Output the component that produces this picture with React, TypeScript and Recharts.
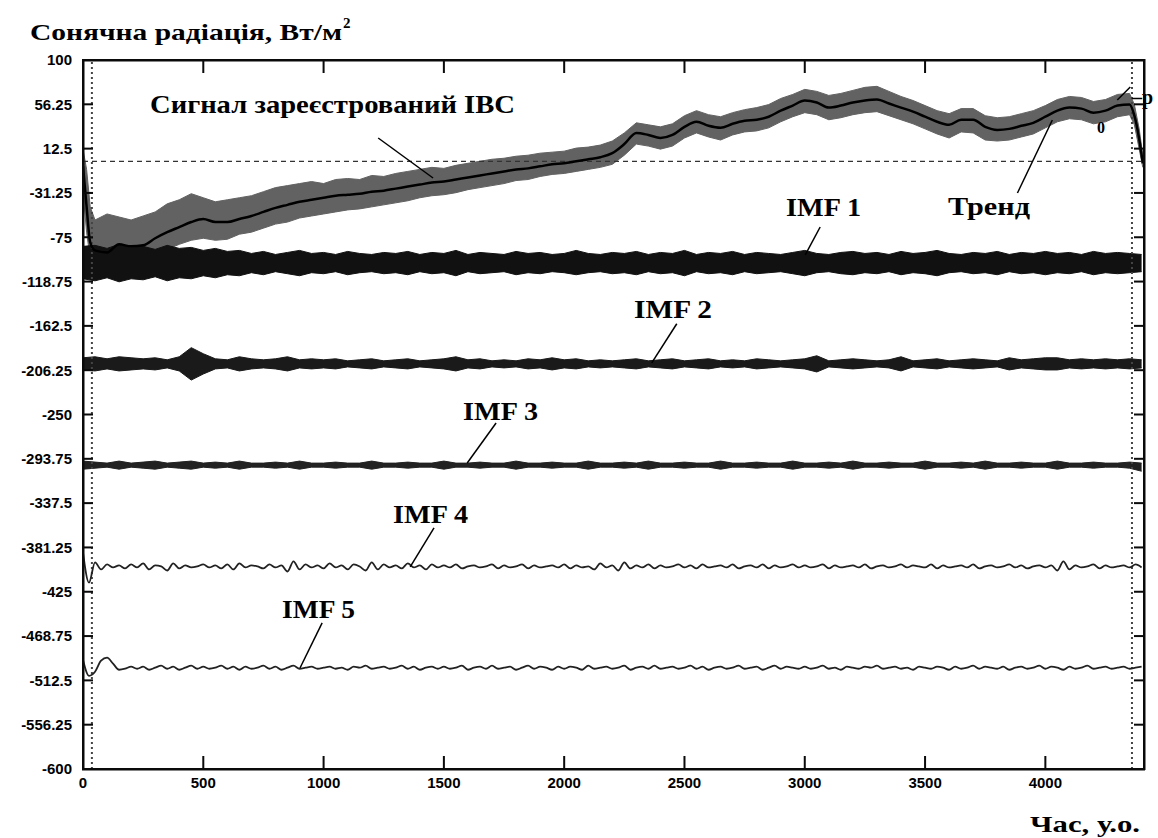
import React from 'react';
import { ComposedChart, Line, Area, XAxis, YAxis, ReferenceLine } from 'recharts';

// axis ticks
const X_TICKS = [0, 500, 1000, 1500, 2000, 2500, 3000, 3500, 4000];
const Y_TICKS = [100, 56.25, 12.5, -31.25, -75, -118.75, -162.5, -206.25, -250, -293.75, -337.5, -381.25, -425, -468.75, -512.5, -556.25, -600];
const X_MAX = 4410;
const Y_MIN = -600;
const Y_MAX = 100;

// recorded signal (gray band) + trend
const SIG_T = [
  0, 15, 30, 50, 100, 150, 200, 250, 300, 350, 400, 450,
  500, 550, 600, 650, 700, 750, 800, 850, 900, 950,
  1000, 1050, 1100, 1150, 1200, 1250, 1300, 1350, 1400, 1450,
  1500, 1550, 1600, 1650, 1700, 1750, 1800, 1850, 1900, 1950,
  2000, 2050, 2100, 2150, 2200, 2250, 2300, 2350, 2400, 2450,
  2500, 2550, 2600, 2650, 2700, 2750, 2800, 2850, 2900, 2950,
  3000, 3050, 3100, 3150, 3200, 3250, 3300, 3350, 3400, 3450,
  3500, 3550, 3600, 3650, 3700, 3750, 3800, 3850, 3900, 3950,
  4000, 4050, 4100, 4150, 4200, 4250, 4300, 4350, 4370, 4390, 4405,
];
const SIG_TREND = [
  -5, -45, -80, -88, -90, -82, -84, -83, -76, -70, -65, -60,
  -57, -60, -60, -57, -54, -50, -46, -43, -40, -38,
  -36, -34, -33, -32, -30, -29, -27, -25, -23, -21,
  -20, -18, -16, -14, -12, -10, -8, -7, -5, -3,
  -2, 0, 2, 4, 8, 17, 28, 26, 23, 26,
  34, 39, 35, 33, 37, 40, 41, 44, 50, 55,
  60, 58, 53, 55, 58, 60, 61, 57, 53, 49,
  44, 39, 36, 41, 41, 34, 31, 32, 35, 38,
  44, 50, 53, 52, 48, 50, 55, 56, 45, 22, -2,
];
const SIG_LO = [
  -30, -70, -96, -97, -98, -96, -97, -95, -92, -87, -82, -78,
  -76, -78, -77, -72, -70, -66, -62, -60, -56, -54,
  -52, -50, -48, -47, -45, -43, -41, -39, -36, -34,
  -33, -31, -28, -26, -24, -22, -19, -18, -15, -13,
  -12, -10, -8, -6, -3, 6, 17, 15, 12, 15,
  23, 28, 24, 21, 26, 29, 30, 33, 39, 44,
  48, 46, 41, 43, 46, 48, 49, 45, 41, 37,
  32, 27, 23, 29, 28, 21, 20, 21, 24, 27,
  33, 39, 42, 41, 37, 39, 44, 46, 36, 12, -6,
];
const SIG_HI = [
  12, -8, -45, -58, -52, -55, -58, -54, -50, -42, -38, -32,
  -36, -40, -38, -36, -34, -30, -26, -24, -22, -20,
  -22, -18, -17, -18, -14, -15, -12, -10, -8, -6,
  -7, -4, -2, 0, 2, 3, 5, 6, 8, 9,
  10, 13, 14, 16, 20, 28, 38, 36, 34, 37,
  45, 50, 46, 44, 48, 51, 53, 56, 62, 66,
  71, 69, 65, 67, 70, 73, 74, 69, 64, 60,
  55, 50, 47, 52, 52, 45, 43, 44, 47, 50,
  55, 61, 64, 63, 59, 61, 66, 67, 56, 32, 6,
];

// IMF 1..3 envelopes, sampled every 50
const BAND_T = Array.from({ length: 89 }, (_, i) => i * 50);
const IMF1_HI = [
  -84, -83, -86, -82, -85, -84, -87, -83, -86, -85,
  -88, -86, -89, -88, -91, -89, -92, -90, -88, -91,
  -90, -92, -89, -91, -92, -90, -91, -89, -92, -90,
  -91, -88, -92, -90, -91, -92, -89, -91, -90, -92,
  -91, -88, -91, -92, -90, -91, -89, -92, -90, -91,
  -88, -92, -90, -91, -89, -92, -90, -91, -92, -90,
  -88, -91, -92, -90, -89, -91, -90, -92, -89, -91,
  -90, -88, -91, -92, -90, -91, -89, -92, -90, -91,
  -89, -91, -90, -92, -89, -91, -90, -91, -92,
];
const IMF1_LO = [
  -116, -118, -115, -119, -116, -117, -114, -118, -115, -116,
  -113, -115, -112, -113, -110, -112, -109, -111, -113, -110,
  -111, -109, -112, -110, -109, -111, -110, -112, -109, -111,
  -110, -113, -109, -111, -110, -109, -112, -110, -111, -109,
  -110, -112, -110, -109, -111, -110, -112, -109, -111, -110,
  -113, -109, -111, -110, -112, -109, -111, -110, -109, -111,
  -113, -110, -109, -111, -112, -110, -111, -109, -112, -110,
  -111, -113, -110, -109, -111, -110, -112, -109, -111, -110,
  -112, -110, -111, -109, -112, -110, -111, -110, -109,
];
const IMF2_HI = [
  -194, -193, -195, -193, -194, -195, -194, -196, -193, -184,
  -190, -195, -196, -193, -195, -196, -195, -193, -196, -195,
  -196, -195, -197, -196, -195, -197, -196, -195, -197, -196,
  -195, -193, -196, -195, -197, -196, -197, -195, -196, -194,
  -196, -195, -197, -196, -197, -196, -195, -197, -196, -195,
  -197, -196, -195, -197, -196, -197, -195, -196, -197, -196,
  -195, -192, -197, -196, -195, -196, -197, -196, -193, -197,
  -196, -195, -197, -196, -195, -196, -197, -194, -196, -195,
  -194, -194, -196, -195, -196, -195, -196, -195, -196,
];
const IMF2_LO = [
  -206, -207, -205, -207, -206, -205, -206, -204, -207, -216,
  -210, -205, -204, -207, -205, -204, -205, -207, -204, -205,
  -204, -205, -203, -204, -205, -203, -204, -205, -203, -204,
  -205, -207, -204, -205, -203, -204, -203, -205, -204, -206,
  -204, -205, -203, -204, -203, -204, -205, -203, -204, -205,
  -203, -204, -205, -203, -204, -203, -205, -204, -203, -204,
  -205, -208, -203, -204, -205, -204, -203, -204, -207, -203,
  -204, -205, -203, -204, -205, -204, -203, -206, -204, -205,
  -206, -206, -204, -205, -204, -205, -204, -205, -204,
];
const IMF3_HI = [
  -296, -297, -298, -296, -298, -297, -296, -298, -297, -296,
  -298, -297, -298, -296, -298, -298, -297, -298, -296, -298,
  -298, -297, -298, -298, -296, -298, -298, -297, -298, -298,
  -296, -298, -298, -297, -298, -298, -296, -298, -298, -297,
  -298, -298, -296, -298, -298, -297, -298, -296, -298, -298,
  -297, -298, -298, -296, -298, -298, -297, -298, -298, -296,
  -298, -298, -297, -298, -296, -298, -298, -297, -298, -298,
  -296, -298, -298, -297, -298, -296, -298, -298, -297, -298,
  -298, -296, -298, -298, -297, -298, -298, -297, -298,
];
const IMF3_LO = [
  -304, -303, -302, -304, -302, -303, -304, -302, -303, -304,
  -302, -303, -302, -304, -302, -302, -303, -302, -304, -302,
  -302, -303, -302, -302, -304, -302, -302, -303, -302, -302,
  -304, -302, -302, -303, -302, -302, -304, -302, -302, -303,
  -302, -302, -304, -302, -302, -303, -302, -304, -302, -302,
  -303, -302, -302, -304, -302, -302, -303, -302, -302, -304,
  -302, -302, -303, -302, -304, -302, -302, -303, -302, -302,
  -304, -302, -302, -303, -302, -304, -302, -302, -303, -302,
  -302, -304, -302, -302, -303, -302, -302, -303, -306,
];

// IMF 4 and IMF 5, sampled every 25
const FINE_T = Array.from({ length: 177 }, (_, i) => i * 25);
const IMF4 = [
  -386, -416, -396, -403, -398, -401, -399, -402, -398, -401, -397, -403, -399, -400, -404, -397, -402, -399, -401, -400,
  -398, -401, -399, -402, -398, -403, -397, -401, -399, -400, -402, -398, -401, -399, -405, -395, -403, -398, -401, -399,
  -402, -397, -401, -399, -403, -398, -400, -404, -396, -403, -398, -401, -399, -402, -397, -401, -399, -403, -398, -401,
  -399, -401, -398, -402, -400, -399, -401, -400, -398, -402, -399, -401, -400, -398, -402, -399, -401, -400, -399, -401,
  -398, -402, -399, -401, -400, -403, -397, -401, -399, -404, -396, -402, -399, -401, -398, -402, -399, -401, -400, -398,
  -401, -399, -402, -398, -401, -400, -399, -401, -398, -402, -400, -399, -401, -398, -402, -399, -401, -400, -398, -401,
  -399, -401, -400, -398, -402, -399, -401, -400, -399, -401, -398, -402, -400, -399, -401, -400, -398, -401, -399, -400,
  -401, -398, -402, -399, -401, -400, -399, -401, -398, -402, -400, -399, -401, -400, -398, -401, -399, -402, -400, -399,
  -401, -399, -404, -395, -403, -399, -401, -400, -398, -402, -399, -401, -400, -399, -401, -398, -401,
];
const IMF5 = [
  -492, -508, -504, -493, -490, -496, -502, -501, -499, -501, -499, -502, -500, -498, -501, -499, -502, -500, -498, -501,
  -499, -501, -500, -498, -501, -499, -502, -499, -501, -500, -498, -501, -499, -502, -500, -498, -501, -500, -499, -501,
  -500, -499, -501, -500, -502, -499, -500, -498, -501, -500, -499, -501, -500, -498, -501, -499, -502, -500, -499, -501,
  -499, -501, -500, -498, -502, -500, -499, -501, -498, -501, -500, -499, -502, -500, -498, -501, -499, -500, -502, -499,
  -501, -499, -500, -502, -498, -501, -500, -499, -501, -500, -498, -502, -500, -499, -501, -498, -501, -500, -499, -501,
  -500, -498, -501, -499, -502, -500, -499, -501, -500, -498, -501, -500, -499, -502, -500, -498, -501, -499, -500, -501,
  -499, -501, -500, -498, -501, -500, -502, -499, -500, -501, -499, -500, -498, -501, -500, -499, -501, -500, -502, -499,
  -500, -501, -499, -500, -502, -499, -501, -500, -498, -501, -499, -500, -501, -499, -502, -500, -499, -501, -500, -498,
  -501, -499, -500, -502, -499, -501, -500, -498, -501, -500, -499, -501, -500, -499, -501, -500, -499,
];

const sigData = SIG_T.map((t, i) => ({ t, band: [SIG_LO[i], SIG_HI[i]], trend: SIG_TREND[i] }));
const bandData = BAND_T.map((t, i) => ({
  t,
  imf1: [IMF1_LO[i], IMF1_HI[i]],
  imf2: [IMF2_LO[i], IMF2_HI[i]],
  imf3: [IMF3_LO[i], IMF3_HI[i]],
}));
const fineData = FINE_T.map((t, i) => ({ t, imf4: IMF4[i], imf5: IMF5[i] }));

// leader lines for the labels, in data units
const LEADERS = [
  [1227, 23, 1455, -16.5],
  [3064, -64.9, 3002, -92.5],
  [3884, -31.3, 4029, 40.8],
  [2468, -160.4, 2364, -199.1],
  [1717, -258.4, 1597, -297.9],
  [1459, -362, 1360, -400.5],
  [994, -455.8, 902, -500.3],
  [4299, 60.5, 4353, 73.3],
];

const LABELS = [
  { text: 'Сигнал зареєстрований ІВС', x: 150, y: 113, w: 365 },
  { text: 'IMF 1', x: 786, y: 216, w: 75 },
  { text: 'Тренд', x: 948, y: 215, w: 82 },
  { text: 'IMF 2', x: 634, y: 318, w: 78 },
  { text: 'IMF 3', x: 463, y: 420, w: 75 },
  { text: 'IMF 4', x: 393, y: 523, w: 75 },
  { text: 'IMF 5', x: 282, y: 618, w: 73 },
];

// chart box (must match the margins / axis sizes below)
const W = 1158;
const H = 838;
const BOX = { left: 83, top: 60, right: W - 14, bottom: H - 69 };
const px = (t: number) => BOX.left + (t / X_MAX) * (BOX.right - BOX.left);
const py = (v: number) => BOX.top + ((Y_MAX - v) / (Y_MAX - Y_MIN)) * (BOX.bottom - BOX.top);

const serif = "'Liberation Serif', 'Times New Roman', serif";
const tickFont = { fontSize: 15, fontWeight: 700, fill: '#000', fontFamily: "'Liberation Sans', Arial, sans-serif" };
const INK = '#0a0a0a';

export default function App() {
  const bw = BOX.right - BOX.left;
  const bh = BOX.bottom - BOX.top;
  return (
    <div style={{ position: 'absolute', left: 0, top: 0, width: W, height: H, background: '#fff' }}>
      <ComposedChart width={W} height={H} margin={{ top: BOX.top, right: W - BOX.right, bottom: 0, left: 0 }}>
        <XAxis
          dataKey="t"
          type="number"
          domain={[0, X_MAX]}
          ticks={X_TICKS}
          allowDataOverflow
          height={H - BOX.bottom}
          tickSize={-13}
          tickMargin={21}
          tick={tickFont}
          axisLine={false}
          tickLine={false}
        />
        <YAxis
          type="number"
          domain={[Y_MIN, Y_MAX]}
          ticks={Y_TICKS}
          allowDataOverflow
          width={BOX.left}
          tickSize={-10}
          tickMargin={21}
          tick={tickFont}
          axisLine={false}
          tickLine={false}
        />

        <ReferenceLine y={0} stroke="#333" strokeWidth={1.2} strokeDasharray="5 4" />
        <ReferenceLine x={37} stroke="#444" strokeWidth={2} strokeDasharray="2 3" />
        <ReferenceLine x={4360} stroke="#444" strokeWidth={2} strokeDasharray="2 3" />

        <Area data={sigData} dataKey="band" type="linear" fill="#626262" fillOpacity={1} stroke="#626262" strokeWidth={1} isAnimationActive={false} />
        <Line data={sigData} dataKey="trend" type="monotone" stroke="#000" strokeWidth={2.5} dot={false} isAnimationActive={false} />

        <Area data={bandData} dataKey="imf1" type="linear" fill="#111" fillOpacity={1} stroke="#111" strokeWidth={1} isAnimationActive={false} />
        <Area data={bandData} dataKey="imf2" type="linear" fill="#1a1a1a" fillOpacity={1} stroke="#1a1a1a" strokeWidth={1} isAnimationActive={false} />
        <Area data={bandData} dataKey="imf3" type="linear" fill="#222" fillOpacity={1} stroke="#222" strokeWidth={1} isAnimationActive={false} />
        <Line data={fineData} dataKey="imf4" type="monotone" stroke="#222" strokeWidth={1.8} dot={false} isAnimationActive={false} />
        <Line data={fineData} dataKey="imf5" type="monotone" stroke="#222" strokeWidth={1.8} dot={false} isAnimationActive={false} />

        {LEADERS.map(([x1, y1, x2, y2], i) => (
          <ReferenceLine key={`lead-${i}`} segment={[{ x: x1, y: y1 }, { x: x2, y: y2 }]} stroke="#000" strokeWidth={1.5} ifOverflow="visible" />
        ))}
      </ComposedChart>

      <svg width={W} height={H} viewBox={`0 0 ${W} ${H}`} style={{ position: 'absolute', left: 0, top: 0, pointerEvents: 'none' }}>
        {/* box frame (filled strips) with inward ticks on all four sides */}
        <g fill={INK}>
          <rect x={BOX.left - 1} y={BOX.top - 1} width={bw + 2} height={2.5} />
          <rect x={BOX.left - 1} y={BOX.bottom - 1} width={bw + 2} height={2.5} />
          <rect x={BOX.left - 1} y={BOX.top - 1} width={2.5} height={bh + 2} />
          <rect x={BOX.right - 1} y={BOX.top - 1} width={2.5} height={bh + 2} />
          {X_TICKS.map((t) => (
            <g key={`xt-${t}`}>
              <rect x={px(t) - 1} y={BOX.bottom - 13} width={2} height={13} />
              <rect x={px(t) - 1} y={BOX.top} width={2} height={13} />
            </g>
          ))}
          {Y_TICKS.map((v) => (
            <g key={`yt-${v}`}>
              <rect x={BOX.left} y={py(v) - 1} width={10} height={2} />
              <rect x={BOX.right - 10} y={py(v) - 1} width={10} height={2} />
            </g>
          ))}
        </g>

        <text x={30} y={40} fontFamily={serif} fontWeight={700} fontSize={23} textLength={312} lengthAdjust="spacingAndGlyphs">
          Сонячна радіація, Вт/м
        </text>
        <text x={343} y={28} fontFamily={serif} fontWeight={700} fontSize={15}>2</text>
        <text x={1030} y={832} fontFamily={serif} fontWeight={700} fontSize={24} textLength={110} lengthAdjust="spacingAndGlyphs">
          Час, у.о.
        </text>
        {LABELS.map((l) => (
          <text key={l.text} x={l.x} y={l.y} fontFamily={serif} fontWeight={700} fontSize={25} textLength={l.w} lengthAdjust="spacingAndGlyphs">
            {l.text}
          </text>
        ))}
        <text x={1097} y={133} fontFamily={serif} fontWeight={700} fontSize={16}>0</text>
        <text x={1132} y={104} fontFamily={serif} fontWeight={700} fontSize={20}>–р</text>
      </svg>
    </div>
  );
}
